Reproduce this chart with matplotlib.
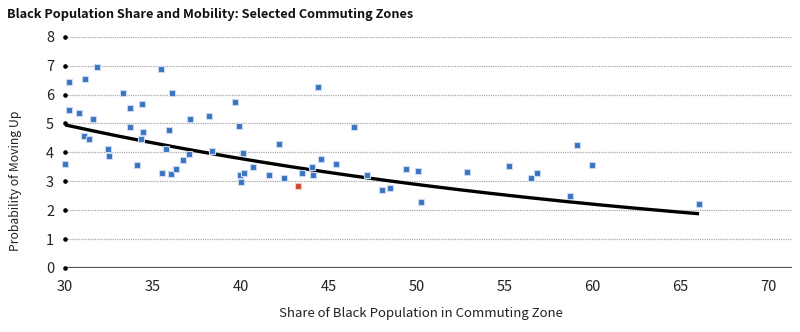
import numpy as np
import matplotlib
matplotlib.use("Agg")
import matplotlib.pyplot as plt

plt.rcParams['font.family'] = ['Noto Sans CJK JP', 'DejaVu Sans']

# Commuting zones: share of Black population (%) and probability of moving up (%)
black_share = [30.0, 30.19, 30.23, 30.8, 31.08, 31.12, 31.35, 31.57, 31.8,
               32.45, 32.48, 33.26, 33.68, 33.7, 34.08, 34.34, 34.36, 34.44,
               35.46, 35.5, 35.71, 35.9, 36.01, 36.05, 36.3, 36.73, 37.07,
               37.11, 38.17, 38.36, 39.67, 39.88, 39.97, 40.0, 40.13, 40.16,
               40.66, 41.62, 42.16, 42.44, 43.49, 44.05, 44.09, 44.38, 44.55,
               45.38, 46.44, 47.18, 48.04, 48.47, 49.38, 50.05, 50.27, 52.86,
               55.25, 56.48, 56.86, 58.7, 59.09, 59.99, 66.06]
mobility = [3.59, 5.48, 6.43, 5.37, 4.55, 6.55, 4.46, 5.14, 6.94,
            4.11, 3.89, 6.05, 5.53, 4.89, 3.57, 4.46, 5.68, 4.69,
            6.89, 3.29, 4.11, 4.79, 3.26, 6.05, 3.43, 3.73, 3.94,
            5.14, 5.27, 4.05, 5.74, 4.92, 3.21, 2.99, 3.99, 3.30,
            3.50, 3.20, 4.28, 3.12, 3.30, 3.50, 3.22, 6.26, 3.76,
            3.60, 4.88, 3.20, 2.71, 2.77, 3.44, 3.37, 2.30, 3.31,
            3.54, 3.12, 3.28, 2.48, 4.25, 3.56, 2.20]

# Highlighted zone
highlight_share = [43.26]
highlight_mobility = [2.83]

# Exponential trend y = a * exp(b * (x - 30)), estimated on all commuting zones
trend_a = 4.95
trend_b = -0.0269
trend_range = [30.0, 66.06]

x_ticks = [30, 35, 40, 45, 50, 55, 60, 65, 70]
y_ticks = [0, 1, 2, 3, 4, 5, 6, 7, 8]

fig = plt.figure(figsize=(8.0, 3.32), dpi=100)
ax = fig.add_axes([0.0815, 0.1928, 0.9085, 0.6965])

tx = np.linspace(trend_range[0], trend_range[1], 200)
ax.plot(tx, trend_a * np.exp(trend_b * (tx - 30.0)), color='black', lw=2.4,
        zorder=3, solid_capstyle='butt', clip_on=False)

ax.plot(black_share, mobility, ls='none', marker='s', ms=4.2,
        mfc='#3a73c2', mec='#c9d9ef', mew=0.8, zorder=4, clip_on=False)
ax.plot(highlight_share, highlight_mobility, ls='none', marker='s', ms=4.2,
        mfc='#d2482a', mec='#f1cbc2', mew=0.8, zorder=4, clip_on=False)

# Gridlines with dot ticks at the left edge
for yv in y_ticks[1:]:
    ax.axhline(yv, color='#ababab', lw=0.9, ls=(0, (1, 0.8)), zorder=1)
ax.axhline(0, color='#555555', lw=1.6, zorder=2)
ax.plot([x_ticks[0]] * len(y_ticks), y_ticks, ls='none', marker='o', ms=2.3,
        color='black', clip_on=False, zorder=5)

ax.set_xlim(30, 71.35)
ax.set_ylim(0, 8)
ax.set_xticks(x_ticks)
ax.set_yticks(y_ticks)
ax.tick_params(length=0, labelsize=10.5, colors='#222222')
ax.tick_params(axis='x', pad=9)
ax.tick_params(axis='y', pad=8)
for s in ax.spines.values():
    s.set_visible(False)

fig.text(0.019, 0.455, 'Probability of Moving Up', rotation=90,
         ha='center', va='center', fontsize=8.8, color='#222222')
fig.text(0.526, 0.055, 'Share of Black Population in Commuting Zone',
         ha='center', va='center', fontsize=9.5, color='#222222')
fig.text(0.009, 0.955, 'Black Population Share and Mobility: Selected Commuting Zones',
         ha='left', va='center', fontsize=9.2, fontweight='bold', color='#111111')

fig.savefig('out.png', dpi=100)
